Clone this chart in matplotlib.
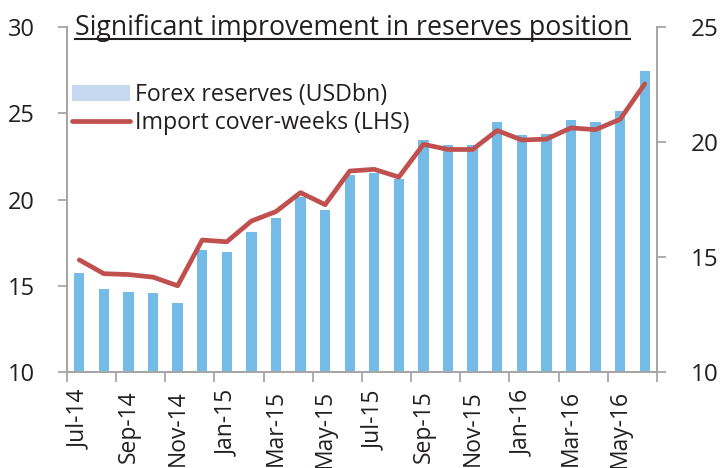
import matplotlib
matplotlib.use("Agg")
import matplotlib.pyplot as plt
from matplotlib.patches import Patch
from matplotlib.lines import Line2D
import numpy as np

months = ["Jul-14", "Aug-14", "Sep-14", "Oct-14", "Nov-14", "Dec-14",
          "Jan-15", "Feb-15", "Mar-15", "Apr-15", "May-15", "Jun-15",
          "Jul-15", "Aug-15", "Sep-15", "Oct-15", "Nov-15", "Dec-15",
          "Jan-16", "Feb-16", "Mar-16", "Apr-16", "May-16", "Jun-16"]
forex_reserves = [14.3, 13.6, 13.5, 13.45, 13.0, 15.3, 15.2, 16.1, 16.7, 17.6,
                  17.05, 18.55, 18.65, 18.4, 20.1, 19.85, 19.85, 20.85, 20.3,
                  20.35, 20.95, 20.85, 21.35, 23.1]
import_cover = [16.5, 15.7, 15.65, 15.5, 15.0, 17.65, 17.55, 18.75, 19.3, 20.4,
                19.7, 21.65, 21.75, 21.3, 23.2, 22.9, 22.9, 24.0, 23.45, 23.5,
                24.15, 24.05, 24.65, 26.7]
left_ticks = [10, 15, 20, 25, 30]
right_ticks = [10, 15, 20, 25]

title = "Significant improvement in reserves position"
bar_color = "#74BCE7"
legend_bar_color = "#C6D9F1"
line_color = "#C0504D"
spine_color = "#A6A6A6"
text_color = "#231F20"
font = "Open Sans"

plt.rcParams["font.family"] = [font, "DejaVu Sans"]

fig = plt.figure(figsize=(7.21, 4.68), dpi=100)
ax = fig.add_axes([0.0929, 0.2051, 0.8183, 0.7372])
ax2 = ax.twinx()

x = np.arange(len(months))
ax2.bar(x, forex_reserves, width=0.42, color=bar_color, zorder=2)
ax.plot(x, import_cover, color=line_color, linewidth=3.4, solid_capstyle="round",
        solid_joinstyle="round", zorder=3)

ax.set_zorder(ax2.get_zorder() + 1)
ax.patch.set_visible(False)

ax.set_xlim(-0.5, len(months) - 0.5)
ax.set_ylim(10, 30)
ax2.set_ylim(10, 25)
ax.set_yticks(left_ticks)
ax2.set_yticks(right_ticks)

# x ticks at category boundaries, labels at every other category centre
ax.set_xticks(np.arange(-0.5, len(months), 2))
ax.set_xticklabels([])
ax.set_xticks(x[::2], minor=True)
ax.set_xticklabels(months[::2], minor=True, rotation=90, fontsize=16.5,
                   color=text_color)
ax.tick_params(axis="x", which="minor", length=0, pad=13)
ax.tick_params(axis="x", which="major", length=7, width=1.3, color=spine_color,
               direction="out")

for a in (ax, ax2):
    for s in a.spines.values():
        s.set_color(spine_color)
        s.set_linewidth(1.4)
    a.spines["top"].set_visible(False)

ax.tick_params(axis="y", length=6.3, width=1.3, color=spine_color, pad=17,
               labelsize=17, labelcolor=text_color)
ax2.tick_params(axis="y", length=6.3, width=1.3, color=spine_color, pad=18,
                labelsize=17.5, labelcolor=text_color)

handles = [Patch(facecolor=legend_bar_color, edgecolor="none"),
           Line2D([0], [0], color=line_color, linewidth=3.4, solid_capstyle="round")]
leg = ax.legend(handles, ["Forex reserves (USDbn)", "Import cover-weeks (LHS)"],
                loc="upper left", bbox_to_anchor=(-0.007, 0.865), frameon=False,
                fontsize=16.7, handlelength=2.5, handletextpad=0.2,
                labelspacing=0.18, borderaxespad=0)
for t in leg.get_texts():
    t.set_color(text_color)

t = fig.text(75 / 721, 1 - 35 / 468, title, fontsize=19.3, color=text_color,
             ha="left", va="baseline")
fig.canvas.draw()
bb = t.get_window_extent()
uy = 1 - 39.3 / 468
fig.add_artist(Line2D([bb.x0 / 721, bb.x1 / 721], [uy, uy], color=text_color,
                      linewidth=1.5, transform=fig.transFigure))

fig.savefig("out.png", dpi=100)
